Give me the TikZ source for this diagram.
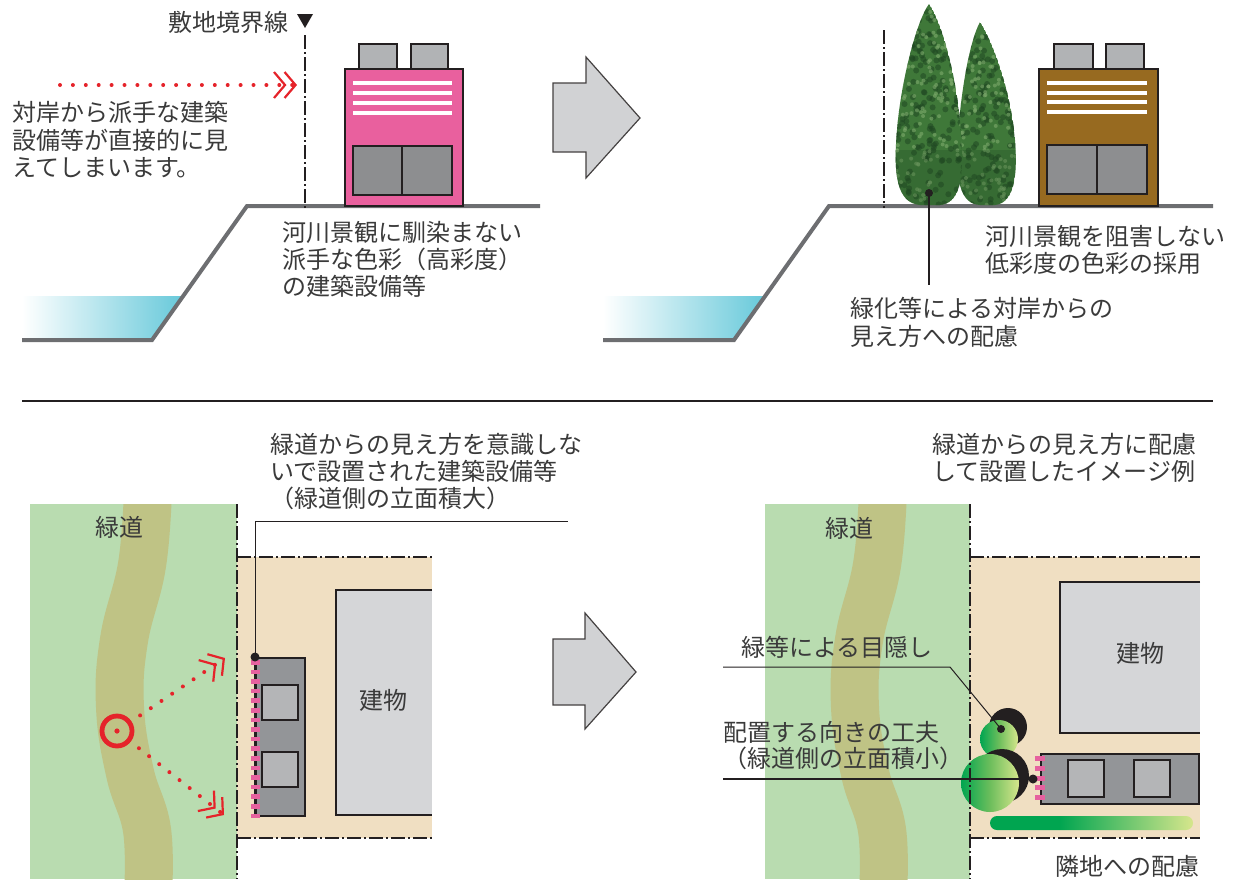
\documentclass[tikz,border=0pt]{standalone}
\usepackage{fontspec}
\usetikzlibrary{arrows.meta,calc}
\newfontfamily\jpfont{Noto Sans CJK JP}

\definecolor{ink}{HTML}{3A3A3A}
\definecolor{outl}{HTML}{231F20}
\definecolor{groundgray}{HTML}{6D6E71}
\definecolor{water}{HTML}{67C9DA}
\definecolor{loudpink}{HTML}{E9609E}
\definecolor{calmbrown}{HTML}{976A20}
\definecolor{unitgray}{HTML}{B1B3B5}
\definecolor{panelgray}{HTML}{8D8E90}
\definecolor{arrowgray}{HTML}{D1D2D4}
\definecolor{sight}{HTML}{E5232A}
\definecolor{parkgreen}{HTML}{B9DCB0}
\definecolor{pathol}{HTML}{BFC385}
\definecolor{sitebeige}{HTML}{F0DFC2}
\definecolor{bldgray}{HTML}{D5D6D8}
\definecolor{eqgray}{HTML}{939598}
\definecolor{eqinner}{HTML}{B4B5B7}
\definecolor{tickpink}{HTML}{E6619F}
\definecolor{leafdark}{HTML}{00A550}
\definecolor{leafmid}{HTML}{6DBE5C}
\definecolor{leaflight}{HTML}{D6E68C}
\definecolor{conifer}{HTML}{3F7839}
\definecolor{coniferdark}{HTML}{1F4722}
\definecolor{coniferlight}{HTML}{7DAA6C}

\pgfdeclarehorizontalshading{hedgeshade}{100bp}{color(0bp)=(leafdark); color(25bp)=(leafdark); color(42bp)=(leafdark); color(75bp)=(leaflight); color(100bp)=(leaflight)}
\pgfdeclarehorizontalshading{shrubshade}{100bp}{color(0bp)=(leafdark); color(25bp)=(leafdark); color(50bp)=(leafmid); color(75bp)=(leaflight); color(100bp)=(leaflight)}

\tikzset{
  lbl/.style={font=\jpfont\fontsize{24}{27}\selectfont, text=ink, inner sep=0pt, anchor=base west},
  ground/.style={draw=groundgray, line width=4pt},
  boundary/.style={draw=outl, line width=2.4pt, dash pattern=on 14pt off 3pt on 2pt off 3pt},
  outlined/.style={draw=outl, line width=2pt},
  leader/.style={draw=outl, line width=1pt},
  sightline/.style={draw=sight, line width=4pt, line cap=round, dash pattern=on 0pt off 12.9pt,
    -{Straight Barb[length=11pt,width=26pt,line width=2.2pt,sep=-3pt] Straight Barb[length=11pt,width=26pt,line width=2.2pt]}},
  blockarrow/.style={fill=arrowgray, draw=outl!85, line width=1.2pt, line join=miter},
  stripe/.style={draw=white, line width=3.3pt},
}

% a tall conifer: outline path, then speckled foliage inside it
\newcommand{\conifertree}[2]{%
  \begin{scope}
    \path[clip] #1;
    \fill[conifer] #1;
    \pgfmathsetseed{#2}
    \foreach \i in {1,...,380}{
      \pgfmathsetmacro{\px}{890+130*rnd}
      \pgfmathsetmacro{\py}{4+202*rnd}
      \fill[coniferdark, opacity=0.55] (\px,\py) circle[radius=3pt];
    }
    \foreach \i in {1,...,300}{
      \pgfmathsetmacro{\px}{890+130*rnd}
      \pgfmathsetmacro{\py}{4+202*rnd}
      \fill[coniferlight, opacity=0.6] (\px,\py) circle[radius=2pt];
    }
    \fill[coniferdark, opacity=0.25] (890,150) rectangle (1020,206);
  \end{scope}}

\begin{document}
\begin{tikzpicture}[x=1pt,y=-1pt]
\useasboundingbox (0,0) rectangle (1237,879);

% ================= upper left: riverside section, loud equipment =================
\shade[left color=white, right color=water] (22,296) -- (183,296) -- (152,340) -- (22,340) -- cycle;
\draw[ground] (22,340) -- (152,340) -- (247,206) -- (540,206);

\coordinate (bndA) at (305,35);
\coordinate (bndAfoot) at (305,208);
\draw[boundary] (bndA) -- (bndAfoot);
\fill[outl] (297,14) -- (313,14) -- (305,28) -- cycle;
\node[lbl] (bndlabel) at (168,31) {敷地境界線};

% pink equipment housing
\node[outlined, fill=unitgray, minimum width=38pt, minimum height=25pt, inner sep=0pt, anchor=north west] (pinkunitA) at (358,43) {};
\node[outlined, fill=unitgray, minimum width=37pt, minimum height=25pt, inner sep=0pt, anchor=north west] (pinkunitB) at (410,43) {};
\node[outlined, fill=loudpink, minimum width=118pt, minimum height=137pt, inner sep=0pt, anchor=north west] (pinkbody) at (344,68) {};
\foreach \yy in {83,93,103,113} \draw[stripe] (353,\yy) -- (452,\yy);
\draw[outlined, fill=panelgray] (353,146) rectangle (452,195);
\draw[outlined] (402,146) -- (402,195);

% view from the far bank
\coordinate (viewA) at (60,85);
\coordinate (viewAtip) at (297,85);
\draw[sightline] (viewA) -- (viewAtip);

\node[lbl] (farbank1) at (12,121) {対岸から派手な建築};
\node[lbl] (farbank2) at (12,149) {設備等が直接的に見};
\node[lbl] (farbank3) at (12,176) {えてしまいます。};

\node[lbl] (loud1) at (282,241) {河川景観に馴染まない};
\node[lbl] (loud2) at (282,268) {派手な色彩（高彩度）};
\node[lbl] (loud3) at (282,295) {の建築設備等};

% ================= transition arrows =================
\draw[blockarrow] (553,83) -- (586,83) -- (586,57) -- (640,118) -- (586,178) -- (586,152) -- (553,152) -- cycle;
\draw[blockarrow] (553,639) -- (585,639) -- (585,613) -- (636,672) -- (585,729) -- (585,705) -- (553,705) -- cycle;

% ================= upper right: screened, muted equipment =================
\shade[left color=white, right color=water] (603,296) -- (765,296) -- (734,340) -- (603,340) -- cycle;
\draw[ground] (603,340) -- (734,340) -- (829,206) -- (1213,206);

\coordinate (bndB) at (884,30);
\coordinate (bndBfoot) at (884,208);
\draw[boundary, line width=1.8pt] (bndB) -- (bndBfoot);

\conifertree{(980,22) .. controls (970,40) and (961,90) .. (958,135) .. controls (955,180) and (960,204) .. (980,205) -- (995,205) .. controls (1013,203) and (1018,180) .. (1015,140) .. controls (1011,90) and (992,40) .. (980,22) -- cycle}{5}
\conifertree{(929,4) .. controls (917,20) and (901,80) .. (897,130) .. controls (893,175) and (897,203) .. (920,205) -- (940,205) .. controls (960,203) and (964,180) .. (961,135) .. controls (958,80) and (942,22) .. (929,4) -- cycle}{11}

\node[outlined, fill=unitgray, minimum width=39pt, minimum height=25pt, inner sep=0pt, anchor=north west] (brownunitA) at (1053,43) {};
\node[outlined, fill=unitgray, minimum width=38pt, minimum height=25pt, inner sep=0pt, anchor=north west] (brownunitB) at (1105,43) {};
\node[outlined, fill=calmbrown, minimum width=119pt, minimum height=137pt, inner sep=0pt, anchor=north west] (brownbody) at (1038,68) {};
\foreach \yy in {83,93,102,112} \draw[stripe] (1047,\yy) -- (1147,\yy);
\draw[outlined, fill=panelgray] (1047,145) rectangle (1147,194);
\draw[outlined] (1097,145) -- (1097,194);

\coordinate (treedot) at (929,193);
\coordinate (treeleaderend) at (929,285);
\fill[outl] (treedot) circle[radius=4pt];
\draw[leader, line width=1.4pt] (treedot) -- (treeleaderend);

\node[lbl] (muted1) at (985,245) {河川景観を阻害しない};
\node[lbl] (muted2) at (985,272) {低彩度の色彩の採用};
\node[lbl] (green1) at (850,317) {緑化等による対岸からの};
\node[lbl] (green2) at (850,345) {見え方への配慮};

% ================= divider =================
\coordinate (divL) at (22,401);
\coordinate (divR) at (1213,401);
\draw[outl, line width=2.5pt] (divL) -- (divR);

% ================= lower left: plan, equipment facing the greenway =================
\fill[parkgreen] (30,504) rectangle (237,879);
\begin{scope}
  \clip (30,504) rectangle (237,879);
  \draw[pathol, line width=48pt] plot[smooth, tension=0.7] coordinates {(148,490) (142,565) (124,640) (120,707) (130,773) (147,830) (148,895)};
\end{scope}
\fill[sitebeige] (237,557) rectangle (432,838);
\fill[bldgray] (336,590) rectangle (432,815);
\draw[outlined] (432,590) -- (336,590) -- (336,815) -- (432,815);
\node[outlined, fill=eqgray, minimum width=49pt, minimum height=158pt, inner sep=0pt, anchor=north west] (eqA) at (255,657) {};
\draw[outlined, line width=2.4pt, fill=eqinner] (262,685) rectangle (298,720);
\draw[outlined, line width=2.4pt, fill=eqinner] (262,752) rectangle (298,787);
\draw[outl, line width=2.6pt] (eqA.north west) -- (eqA.south west);
\foreach \k in {0,...,16} \fill[tickpink] (251,{660+9.6*\k}) rectangle (260,{664.5+9.6*\k});
\draw[boundary] (237,504) -- (237,879);
\draw[boundary] (237,557) -- (432,557);
\draw[boundary] (237,838) -- (432,838);

\node[font=\jpfont\fontsize{24}{27}\selectfont, text=ink, inner sep=0pt, anchor=base] (bldA) at (383,709) {建物};
\node[font=\jpfont\fontsize{24}{27}\selectfont, text=ink, inner sep=0pt, anchor=base] (wayA) at (119,536) {緑道};

% pedestrian viewpoint and sight lines
\coordinate (eye) at (117,731);
\coordinate (upT) at (225,658);
\coordinate (loT) at (224,815);
\draw[sight, line width=4.8pt] (eye) circle[radius=15pt];
\fill[sight] (eye) circle[radius=2.6pt];
\draw[sightline] ($(eye)!15pt!(upT)$) -- (upT);
\draw[sightline] ($(eye)!15pt!(loT)$) -- (loT);

% callout for the exposed face
\coordinate (bigface) at (255,657);
\coordinate (bigbend) at (255,521);
\coordinate (bigend) at (568,521);
\fill[outl] (bigface) circle[radius=4.5pt];
\draw[leader] (bigface) -- (bigbend) -- (bigend);
\node[lbl] (big1) at (270,453) {緑道からの見え方を意識しな};
\node[lbl] (big2) at (270,480) {いで設置された建築設備等};
\node[lbl] (big3) at (270,507) {（緑道側の立面積大）};

% ================= lower right: plan, considered placement =================
\fill[parkgreen] (765,504) rectangle (970,879);
\begin{scope}
  \clip (765,504) rectangle (970,879);
  \draw[pathol, line width=48pt, xshift=735pt] plot[smooth, tension=0.7] coordinates {(148,490) (142,565) (124,640) (120,707) (130,773) (147,830) (148,895)};
\end{scope}
\fill[sitebeige] (970,557) rectangle (1200,838);
\fill[bldgray] (1060,582) rectangle (1200,733);
\draw[outlined] (1200,582) -- (1060,582) -- (1060,733) -- (1200,733);
\node[outlined, fill=eqgray, minimum width=158pt, minimum height=50pt, inner sep=0pt, anchor=north west] (eqB) at (1040,753) {};
\draw[outlined, line width=2.4pt, fill=eqinner] (1068,760) rectangle (1104,797);
\draw[outlined, line width=2.4pt, fill=eqinner] (1134,760) rectangle (1170,797);
\foreach \yy in {756,766,776,785,795} \fill[tickpink] (1035,\yy) rectangle (1045,\yy+4.5);

% hedge strip along the neighbour side
\shade[shading=hedgeshade, rounded corners=7pt] (990,816) rectangle (1193,830);

% screening shrubs
\fill[outl] (1008,727) circle[radius=19pt];
\shade[shading=shrubshade] (999,739) circle[radius=19pt];
\fill[outl] (1002,776) circle[radius=27pt];
\shade[shading=shrubshade] (990,783) circle[radius=29pt];

\draw[boundary] (970,504) -- (970,879);
\draw[boundary] (970,557) -- (1200,557);
\draw[boundary] (970,838) -- (1200,838);

\node[font=\jpfont\fontsize{24}{27}\selectfont, text=ink, inner sep=0pt, anchor=base] (bldB) at (1140,662) {建物};
\node[font=\jpfont\fontsize{24}{27}\selectfont, text=ink, inner sep=0pt, anchor=base] (wayB) at (849,537) {緑道};

% callouts
\coordinate (screenL) at (723,667);
\coordinate (screenbend) at (950,667);
\coordinate (screendot) at (1001,729);
\draw[leader] (screenL) -- (screenbend) -- (screendot);
\fill[outl] (screendot) circle[radius=4pt];
\node[lbl] (screen) at (741,656) {緑等による目隠し};

\coordinate (orientL) at (723,779);
\coordinate (orientdot) at (1033,779);
\draw[leader, line width=1.5pt] (orientL) -- (orientdot);
\fill[outl] (orientdot) circle[radius=4.5pt];
\node[lbl] (orient1) at (723,741) {配置する向きの工夫};
\node[lbl] (orient2) at (723,767) {（緑道側の立面積小）};

\node[lbl] (idea1) at (932,453) {緑道からの見え方に配慮};
\node[lbl] (idea2) at (932,480) {して設置したイメージ例};
\node[lbl] (neighbour) at (1055,875) {隣地への配慮};

\end{tikzpicture}
\end{document}
